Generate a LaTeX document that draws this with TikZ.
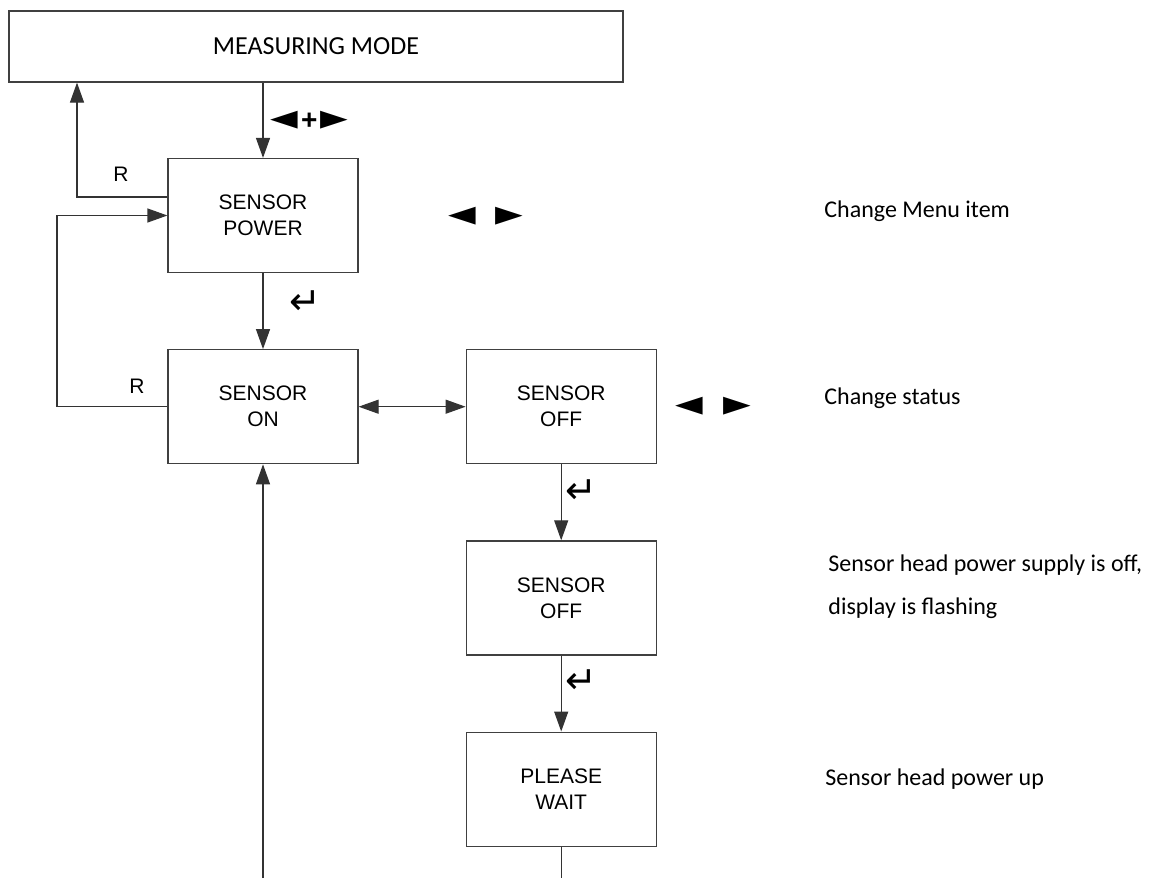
\documentclass[tikz,border=0pt]{standalone}
\usepackage{fontspec}
\setmainfont{Liberation Sans}
\newfontfamily\calib{Carlito}
\newfontfamily\symb{DejaVu Sans}
\usetikzlibrary{arrows.meta, positioning, calc}
\tikzstyle{menubox} = [rectangle, minimum width=95pt, minimum height=57pt, text centered, align=center, draw=black!75, line width=0.6pt, font=\fontsize{10.5}{13}\selectfont]
\tikzstyle{arrow} = [line width=0.6pt, draw=black!80, -{Triangle[length=10pt,width=7pt]}]
\tikzstyle{line} = [line width=0.6pt, draw=black!80]
\tikzstyle{keys} = [font=\symb\fontsize{18}{18}\selectfont, inner sep=0pt]
\tikzstyle{enter} = [font=\symb\fontsize{19}{19}\selectfont, inner sep=0pt]
\tikzstyle{note} = [anchor=west, align=left, inner sep=0pt, font=\calib\fontsize{12}{21.5}\selectfont]

\begin{document}
\begin{tikzpicture}[x=0.5pt, y=-0.5pt, node distance=38pt]
\useasboundingbox (0,0) rectangle (1154,878);

\node (mm) [rectangle, draw=black!75, line width=0.6pt, minimum width=307pt, minimum height=35.5pt, font=\calib\fontsize{13}{13}\selectfont] at (316,46.5) {MEASURING MODE};
\node (sp) [menubox] at (263,215.5) {SENSOR\\POWER};
\node (son) [menubox, below=of sp] {SENSOR\\ON};
\node (soff) [menubox, right=53.5pt of son] {SENSOR\\OFF};
\node (soffb) [menubox, below=of soff] {SENSOR\\OFF};
\node (wait) [menubox, below=of soffb] {PLEASE\\WAIT};

\coordinate (rcol) at (77,0);
\coordinate (lcol) at (57,0);
\coordinate (bot) at (0,878);

\draw [arrow] (mm.south -| sp.north) -- (sp.north);
\draw [arrow] ([yshift=9.25pt]sp.west) -| (rcol |- mm.south);
\draw [arrow] (son.west) -| (lcol |- sp.west) -- (sp.west);
\draw [arrow] (sp.south) -- (son.north);
\draw [arrow, {Triangle[length=10pt,width=7pt]}-{Triangle[length=10pt,width=7pt]}] (son.east) -- (soff.west);
\draw [arrow] (soff.south) -- (soffb.north);
\draw [arrow] (soffb.south) -- (wait.north);
\draw [line] (wait.south) -- (wait.south |- bot);
\draw [arrow] (son.south |- bot) -- (son.south);

\node (plus) [keys, anchor=west] at (270,120) {◄\hspace{1.5pt}{\rmfamily\bfseries\fontsize{14}{14}\selectfont +}\hspace{1.5pt}►};
\node (r1) [font=\fontsize{10.5}{13}\selectfont] at (121,174) {R};
\node (r2) [font=\fontsize{10.5}{13}\selectfont] at (137,386) {R};
\node (ent1) [enter] at (305.5,303) {↵};
\node (ent2) [enter] at (581.5,491.5) {↵};
\node (ent3) [enter] at (581.5,681.5) {↵};
\node (lr1) [keys] at (486,216) {◄\hspace{10pt}►};
\node (lr2) [keys] at (713.5,406) {◄\hspace{10pt}►};

\node (n1) [note] at (824,211) {Change Menu item};
\node (n2) [note] at (824,398) {Change status};
\node (n3) [note] at (828,586.5) {Sensor head power supply is off,\\display is flashing};
\node (n4) [note] at (825,779) {Sensor head power up};

\end{tikzpicture}
\end{document}
